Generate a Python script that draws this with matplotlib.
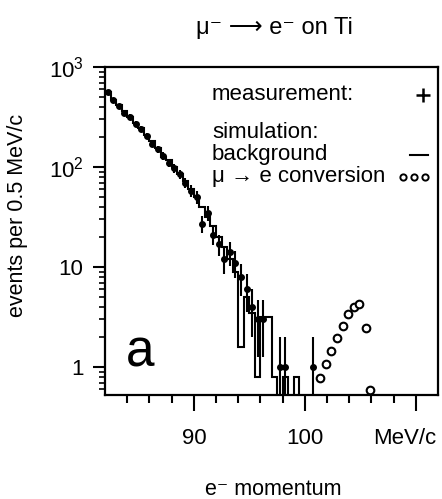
import numpy as np
import matplotlib
matplotlib.use("Agg")
import matplotlib.pyplot as plt
from matplotlib.ticker import FixedLocator, LogLocator, NullFormatter
from matplotlib.transforms import ScaledTranslation

plt.rcParams['font.family'] = ['Liberation Sans', 'DejaVu Sans']
plt.rcParams['mathtext.fontset'] = 'custom'
plt.rcParams['mathtext.rm'] = 'Liberation Sans'
plt.rcParams['mathtext.default'] = 'regular'

# simulated background, events per 0.5 MeV/c bin (edges 82 .. 100)
bin_edges = np.arange(82.0, 100.01, 0.5)
background = [560, 470, 420, 360, 320, 275, 245, 210, 180, 155,
              125, 118, 100, 86, 72, 60, 50, 40, 32, 26,
              20, 16, 12, 9, 1.6, 5, 3.5, 0.8, 3.2, 3.2,
              0.8, 0.3, 0.8, 0.3, 0.8, 0.3]

# measured events
meas_p = [82.25, 82.75, 83.25, 83.75, 84.25, 84.75, 85.25, 85.75, 86.25, 86.75,
          87.25, 87.75, 88.25, 88.75, 89.25, 89.75, 90.25, 90.75, 91.25, 91.75,
          92.25, 92.75, 93.25, 93.75, 94.25, 94.75, 95.25, 95.75, 96.25,
          97.75, 98.25, 100.75]
meas_n = [560, 470, 410, 350, 320, 270, 240, 205, 170, 150,
          130, 110, 98, 85, 70, 58, 50, 27, 35, 21,
          17, 12, 14, 11, 8, 6, 4, 3, 3,
          1, 1, 1]

# simulated mu -> e conversion signal
conv_p = [101.4, 101.9, 102.4, 102.9, 103.4, 103.9, 104.4, 104.9, 105.5, 105.9]
conv_n = [0.78, 1.07, 1.45, 1.95, 2.57, 3.4, 4.0, 4.3, 2.45, 0.59]

fig = plt.figure(figsize=(4.42, 4.99), dpi=100)
ax = fig.add_axes([0.2376, 0.2084, 0.7534, 0.6573])
ax.set_yscale('log', nonpositive='clip')

ax.stairs(background, bin_edges, baseline=None, color='black', lw=1.5)

n = np.array(meas_n, dtype=float)
lo = n - np.sqrt(n)
lo[lo <= 0] = 0.1
ax.errorbar(meas_p, n, yerr=[n - lo, np.sqrt(n)], xerr=0.12, fmt='o',
            color='black', ms=4, elinewidth=1.5, capsize=0)

ax.plot(conv_p, conv_n, 'o', mfc='white', mec='black', mew=1.5, ms=5.5)

ax.set_xlim(82, 112)
ax.set_ylim(0.525, 1000)

ax.xaxis.set_major_locator(FixedLocator([90, 100, 110]))
ax.xaxis.set_minor_locator(FixedLocator(np.arange(84, 112, 2)))
ax.set_xticklabels(['90', '100', 'MeV/c'])
ax.yaxis.set_major_locator(FixedLocator([1, 10, 100, 1000]))
ax.yaxis.set_minor_locator(LogLocator(base=10, subs=np.arange(2, 10)))
ax.yaxis.set_minor_formatter(NullFormatter())
ax.set_yticklabels(['1', '10', '$10^{2}$', '$10^{3}$'])

ax.tick_params(axis='x', which='major', direction='out', length=11.5, width=1.5,
               pad=12, labelsize=16)
ax.tick_params(axis='x', which='minor', direction='out', length=5.5, width=1.5)
ax.tick_params(axis='y', which='major', direction='out', length=8.5, width=1.5,
               pad=7, labelsize=16)
ax.tick_params(axis='y', which='minor', direction='out', length=4.5, width=1.2)
for s in ax.spines.values():
    s.set_linewidth(1.6)

# unit label sits left of the 110 tick, inside the figure
unit = ax.get_xticklabels()[2]
unit.set_transform(unit.get_transform() + ScaledTranslation(-0.11, 0, fig.dpi_scale_trans))

ax.set_ylabel('events per 0.5 MeV/c', fontsize=15.5)
ax.yaxis.set_label_coords(-0.231, 0.546)
ax.set_xlabel('e⁻ momentum', fontsize=15.5)
ax.xaxis.set_label_coords(0.505, -0.255)

fig.text(274 / 442, 1 - 28 / 499, 'μ⁻ ⟶ e⁻ on Ti', ha='center', va='center', fontsize=17)

# legend written as in the original figure
tx = 0.321
ax.text(tx, 0.915, 'measurement:', transform=ax.transAxes, fontsize=16, va='center')
ax.text(tx, 0.799, 'simulation:', transform=ax.transAxes, fontsize=16, va='center')
ax.text(tx, 0.732, 'background', transform=ax.transAxes, fontsize=16, va='center')
ax.text(tx, 0.665, 'μ → e conversion', transform=ax.transAxes, fontsize=16, va='center')
ax.plot([0.955], [0.915], marker='+', ms=10, mew=1.8, color='black', transform=ax.transAxes)
ax.plot([0.916, 0.97], [0.732, 0.732], color='black', lw=1.5, transform=ax.transAxes)
ax.plot([0.895, 0.928, 0.961], [0.665] * 3, 'o', mfc='white', mec='black', mew=1.4, ms=4.5,
        transform=ax.transAxes)

ax.text(0.105, 0.128, 'a', transform=ax.transAxes, fontsize=37, ha='center', va='center')

fig.savefig('out.png', dpi=100)
